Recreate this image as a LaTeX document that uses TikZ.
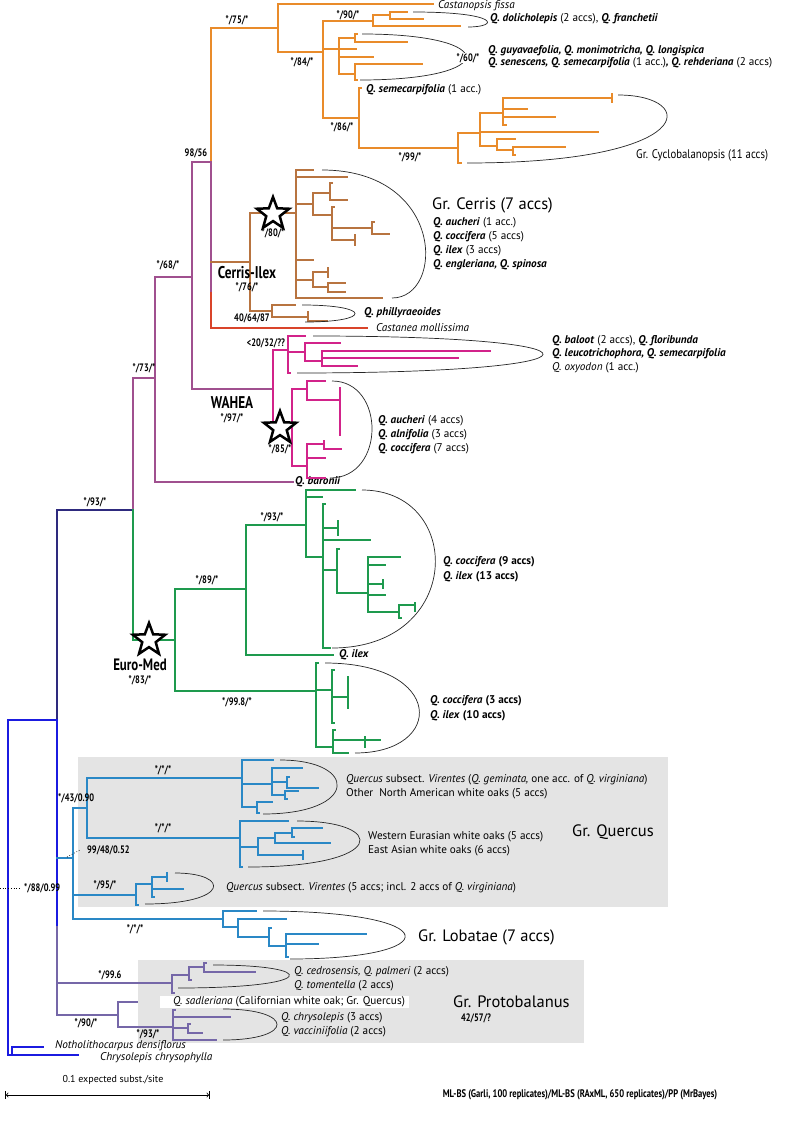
\documentclass[tikz,border=0pt]{standalone}
\usepackage{fontspec}
\setmainfont{PT Sans}
\newfontfamily\cnd[FakeStretch=0.78]{PT Sans}
\newfontfamily\semi[FakeStretch=0.86]{PT Sans}
\usetikzlibrary{shapes.geometric}
\definecolor{cOr}{HTML}{E98B2A}
\definecolor{cBr}{HTML}{B87440}
\definecolor{cRd}{HTML}{D9442A}
\definecolor{cPu}{HTML}{A0508F}
\definecolor{cMg}{HTML}{D2238A}
\definecolor{cNv}{HTML}{2E2A7E}
\definecolor{cGn}{HTML}{1E9A4E}
\definecolor{cBl}{HTML}{2A88C6}
\definecolor{cRt}{HTML}{1B1BE0}
\definecolor{cPr}{HTML}{7567A8}
\definecolor{cGy}{HTML}{E4E4E4}
\newcommand\brc{cOr}
\newcommand\Hb[3]{\draw[br,draw=\brc] (#2,#1) -- (#3,#1);}
\newcommand\Vb[3]{\draw[br,draw=\brc] (#1,#2) -- (#1,#3);}
\newcommand\clade[5]{\pgfmathsetmacro\cladecx{(#5-0.125*(#1+#3))/0.75}\draw[cl] (#1,#2) .. controls (\cladecx,#2) and (\cladecx,#4) .. (#3,#4);}
\newcommand\Q[1]{\textbf{\textit{#1}}}
\tikzset{
 br/.style={line width=2.2pt, line cap=rect},
 cl/.style={line width=0.7pt, draw=black!85},
 sp/.style={anchor=west, inner sep=0pt, font=\fontsize{11.2}{13}\selectfont},
 sup/.style={inner sep=0pt, font=\cnd\bfseries\fontsize{10.8}{12}\selectfont},
 grp/.style={anchor=west, inner sep=0pt, font=\fontsize{16.5}{19}\selectfont},
 bigl/.style={inner sep=0pt, font=\cnd\bfseries\fontsize{17}{19}\selectfont},
 starmark/.style={star, star points=5, star point ratio=2.4, draw=black, line width=2.5pt, fill=white, minimum size=34pt, inner sep=0pt},
}
\begin{document}
\begin{tikzpicture}[x=1pt,y=-1pt]
\useasboundingbox[fill=white] (0,0) rectangle (785,1124);
% grey boxes
\fill[cGy] (78,757) rectangle (668,907);
\fill[cGy] (138,960) rectangle (584,1043);
\fill[white] (160,996) rectangle (409,1008);
% ---------------- orange
\renewcommand\brc{cOr}
\Vb{211}{28}{162}\Hb{28}{211}{278}
\Vb{278}{4}{52}\Hb{4}{278}{433}\Hb{52}{278}{323}
\Vb{323}{21}{118}
\Hb{21}{323}{373}\Vb{373}{15}{26}\Hb{15}{373}{390}\Vb{390}{12}{19}\Hb{12}{390}{407}\Hb{19}{390}{423}\Hb{26}{373}{460}
\Hb{49}{323}{356}\Vb{339}{38}{74}
\Hb{38}{339}{355}\Vb{355}{34}{42}\Hb{34}{355}{357}\Hb{42}{355}{407}
\Hb{57}{339}{373}
\Hb{74}{339}{355}\Vb{355}{64}{80}\Hb{64}{355}{422}\Hb{80}{355}{357}
\Hb{118}{323}{359}\Vb{359}{88}{148}\Hb{88}{359}{361}\Hb{148}{359}{458}
\Vb{458}{133}{163}\Hb{163}{458}{461}
\Hb{133}{458}{480}\Vb{480}{113}{146}
\Hb{113}{480}{503}\Vb{503}{98}{125}\Hb{98}{503}{612}\Vb{612}{94}{102}\Hb{109}{503}{527}\Hb{117}{503}{555}\Hb{125}{503}{506}
\Hb{132}{480}{598}
\Hb{146}{480}{497}\Vb{497}{139}{150}\Hb{139}{497}{515}\Hb{150}{497}{513}\Vb{513}{147}{155}\Hb{147}{513}{565}\Hb{155}{513}{515}
\node[sup] (s75) at (237,20) {*/75/*};
\node[sup] (s84) at (302,62) {*/84/*};
\node[sup] (s90) at (348,15) {*/90/*};
\node[sup] (s86) at (342,127) {*/86/*};
\node[sup] (s99) at (410,157) {*/99/*};
\node[sp] (cfis) at (438,6) {\textit{Castanopsis fissa}};
\clade{413}{12}{468}{27}{485}
\node[sp] (dol) at (490,19) {\Q{Q. dolicholepis} (2 accs), \Q{Q. franchetii}};
\clade{362}{34}{360}{80}{466}
\node[sup,fill=white,inner sep=0.6pt] (s60) at (468,58) {*/60/*};
\node[sp] (guy1) at (488,51) {\Q{Q. guyavaefolia, Q. monimotricha, Q. longispica}};
\node[sp] (guy2) at (488,63) {\Q{Q. senescens, Q. semecarpifolia} (1 acc.)\Q{, Q. rehderiana} (2 accs)};
\node[sp] (sem) at (366,90) {\Q{Q. semecarpifolia} (1 acc.)};
\clade{618}{95}{467}{163}{660}
\node[grp,font=\semi\fontsize{12.5}{15}\selectfont] (cyc) at (636,155) {Gr. Cyclobalanopsis (11 accs)};
% ---------------- purple backbone
\renewcommand\brc{cPu}
\Hb{162}{192}{211}\Vb{211}{162}{293}
\Vb{192}{162}{389}\Hb{277}{155}{192}
\Vb{155}{277}{482}\Hb{482}{155}{293}
\Hb{378}{133}{155}\Vb{133}{378}{510}
\Hb{389}{192}{273}
\renewcommand\brc{cRd}
\Vb{211}{293}{328}\Hb{328}{211}{367}
\node[sup] (s9856) at (196,153) {98/56};
\node[sup] (s68) at (168,265) {*/68/*};
\node[sup] (s73) at (144,368) {*/73/*};
\node[sp] (cmol) at (376,328) {\textit{Castanea mollissima}};
\node[sp] (baro) at (295,482) {\Q{Q. baronii}};
% ---------------- Cerris
\renewcommand\brc{cBr}
\Hb{262}{211}{250}\Vb{250}{213}{311}\Hb{213}{250}{296}
\Vb{296}{170}{298}
\Hb{170}{296}{313}\Hb{177}{296}{347}
\Hb{204}{296}{313}\Vb{313}{193}{215}
\Hb{193}{313}{330}\Vb{330}{183}{200}\Hb{183}{330}{332}\Hb{200}{330}{347}
\Hb{215}{313}{332}\Vb{332}{207}{240}\Hb{207}{332}{334}
\Hb{228}{332}{372}\Vb{372}{222}{234}\Hb{222}{372}{374}\Hb{234}{372}{389}
\Hb{240}{332}{355}\Vb{355}{235}{245}
\Hb{260}{296}{313}
\Hb{280}{296}{313}\Vb{313}{272}{287}
\Hb{272}{313}{328}\Vb{328}{268}{277}
\Hb{287}{313}{328}\Vb{328}{283}{292}\Hb{283}{328}{345}\Hb{292}{328}{345}
\Hb{298}{296}{382}
\Hb{311}{250}{272}\Vb{272}{305}{317}\Hb{305}{272}{295}\Hb{317}{272}{308}\Vb{308}{312}{321}\Hb{321}{308}{327}
\clade{322}{170}{392}{298}{423}
\clade{302}{305}{305}{322}{355}
\node[starmark] (st1) at (273,214) {};
\node[sup] (s80) at (273,233) {*/80/*};
\node[bigl] (ceil) at (247,273) {Cerris-Ilex};
\node[sup] (s76) at (247,287) {*/76/*};
\node[sup] (s406487) at (252,318) {40/64/87};
\node[sp] (phil) at (364,313) {\Q{Q. phillyraeoides}};
\node[grp] (gcer) at (432,205) {Gr. Cerris (7 accs)};
\node[sp] (ce1) at (433,223) {\Q{Q. aucheri} (1 acc.)};
\node[sp] (ce2) at (433,237) {\Q{Q. coccifera} (5 accs)};
\node[sp] (ce3) at (433,251) {\Q{Q. ilex} (3 accs)};
\node[sp] (ce4) at (433,265) {\Q{Q. engleriana, Q. spinosa}};
% ---------------- WAHEA
\renewcommand\brc{cMg}
\Vb{273}{350}{427}\Hb{350}{273}{288}
\Vb{288}{336}{373}\Hb{336}{288}{305}\Hb{352}{288}{305}\Hb{373}{288}{290}
\Vb{305}{343}{361}\Hb{343}{305}{340}\Hb{361}{305}{322}
\Vb{322}{351}{366}\Hb{351}{322}{490}\Hb{358}{322}{458}\Hb{366}{322}{357}
\Hb{427}{273}{292}\Vb{292}{389}{466}
\Hb{389}{292}{307}\Vb{307}{381}{400}\Hb{381}{307}{325}\Hb{400}{307}{340}\Vb{340}{388}{435}
\Hb{466}{292}{307}\Vb{307}{444}{478}\Hb{444}{307}{324}\Vb{324}{441}{449}\Hb{449}{324}{341}\Hb{458}{307}{325}\Hb{478}{307}{325}
\clade{313}{336}{297}{373}{543}
\clade{332}{381}{330}{478}{372}
\node[starmark] (st2) at (280,428) {};
\node[sup] (s2032) at (266,343) {<20/32/??};
\node[bigl] (wah) at (232,403) {WAHEA};
\node[sup] (s97) at (232,418) {*/97/*};
\node[sup] (s85) at (280,449) {*/85/*};
\node[sp] (wa1) at (552,341) {\Q{Q. baloot} (2 accs), \Q{Q. floribunda}};
\node[sp] (wa2) at (552,354) {\Q{Q. leucotrichophora, Q. semecarpifolia}};
\node[sp] (wa3) at (552,368) {\textit{Q. oxyodon} (1 acc.)};
\node[sp] (wb1) at (378,421) {\Q{Q. aucheri} (4 accs)};
\node[sp] (wb2) at (378,435) {\Q{Q. alnifolia} (3 accs)};
\node[sp] (wb3) at (378,449) {\Q{Q. coccifera} (7 accs)};
% ---------------- navy + Euro-Med
\renewcommand\brc{cNv}
\Hb{510}{57}{133}\Vb{57}{510}{720}
\node[sup] (s93a) at (95,502) {*/93/*};
\renewcommand\brc{cGn}
\Vb{133}{510}{640}\Hb{640}{133}{175}
\Vb{175}{589}{691}\Hb{589}{175}{246}\Hb{691}{175}{316}
\Vb{246}{525}{655}\Hb{525}{246}{306}\Hb{655}{246}{333}
\Vb{306}{490}{557}\Hb{490}{306}{355}\Hb{497}{306}{322}\Hb{557}{306}{323}
\Vb{323}{504}{648}\Hb{504}{323}{325}
\Hb{528}{323}{338}\Vb{338}{521}{535}
\Hb{540}{323}{370}
\Hb{570}{323}{337}\Vb{337}{549}{593}\Hb{549}{337}{339}\Hb{593}{337}{368}
\Vb{368}{557}{612}\Hb{557}{368}{400}\Hb{565}{368}{385}\Hb{584}{368}{383}\Vb{383}{580}{588}\Hb{595}{368}{385}
\Hb{612}{368}{399}\Vb{399}{605}{618}\Hb{605}{399}{415}\Vb{415}{603}{611}\Hb{618}{399}{401}
\Hb{648}{323}{330}
\Vb{316}{663}{747}\Hb{663}{316}{318}
\Hb{690}{316}{332}\Vb{332}{670}{723}\Hb{670}{332}{334}\Hb{697}{332}{348}\Vb{348}{677}{708}\Hb{723}{332}{334}
\Hb{747}{316}{333}\Vb{333}{730}{753}\Hb{730}{333}{335}\Hb{740}{333}{380}\Vb{365}{737}{747}\Hb{753}{333}{348}
\clade{362}{490}{332}{648}{435}
\clade{325}{663}{355}{753}{419}
\node[starmark] (st3) at (149,640) {};
\node[bigl,font=\cnd\bfseries\fontsize{16.5}{19}\selectfont] (eur) at (140,665) {Euro-Med};
\node[sup] (s83) at (140,680) {*/83/*};
\node[sup] (s89) at (207,580) {*/89/*};
\node[sup] (s93b) at (272,517) {*/93/*};
\node[sup] (s998) at (237,702) {*/99.8/*};
\node[sp] (qil) at (339,655) {\Q{Q. ilex}};
\node[sp] (em1) at (443,562) {\Q{Q. coccifera} \textbf{(9 accs)}};
\node[sp] (em2) at (443,577) {\Q{Q. ilex} \textbf{(13 accs)}};
\node[sp] (em3) at (430,701) {\Q{Q. coccifera} \textbf{(3 accs)}};
\node[sp] (em4) at (430,716) {\Q{Q. ilex} \textbf{(10 accs)}};
% ---------------- root
\renewcommand\brc{cRt}
\Hb{720}{8}{57}\Vb{57}{720}{927}
\Vb{8}{720}{1055}\Hb{1055}{8}{78}\Vb{12}{1047}{1055}\Hb{1047}{12}{43}
\node[sp] (noth) at (55,1046) {\textit{Notholithocarpus densiflorus}};
\node[sp] (chry) at (100,1058) {\textit{Chrysolepis chrysophylla}};
% ---------------- Quercus
\renewcommand\brc{cBl}
\Hb{858}{57}{73}\Vb{73}{808}{919}
\Hb{808}{73}{87}\Vb{87}{778}{838}
\Hb{778}{87}{242}\Vb{242}{760}{807}
\Hb{760}{242}{273}
\Hb{784}{242}{272}\Vb{272}{768}{795}\Hb{768}{272}{302}
\Hb{782}{272}{287}\Vb{287}{777}{788}\Hb{777}{287}{289}\Hb{788}{287}{318}
\Hb{795}{272}{285}\Vb{285}{791}{799}\Hb{791}{285}{298}\Hb{799}{285}{287}
\Hb{807}{242}{257}\Vb{257}{802}{813}\Hb{802}{257}{272}\Hb{813}{257}{259}
\Hb{838}{87}{240}\Vb{240}{821}{867}
\Hb{821}{240}{288}
\Hb{847}{240}{258}\Vb{258}{838}{855}
\Hb{838}{258}{275}\Vb{275}{833}{843}\Hb{833}{275}{292}\Vb{292}{828}{837}\Hb{828}{292}{322}\Hb{837}{292}{294}\Hb{843}{275}{330}
\Hb{855}{258}{303}\Vb{303}{851}{859}
\Hb{867}{240}{242}
\Hb{895}{73}{136}\Vb{136}{884}{905}
\Hb{884}{136}{152}\Vb{152}{877}{897}\Hb{877}{152}{167}\Vb{167}{873}{881}\Hb{889}{152}{183}\Hb{897}{152}{154}
\Hb{905}{136}{138}
\Hb{919}{73}{223}\Vb{223}{911}{927}\Hb{911}{223}{256}\Hb{927}{223}{238}
\Vb{238}{919}{937}\Hb{919}{238}{286}\Hb{937}{238}{269}
\Vb{269}{928}{946}\Hb{928}{269}{271}\Hb{946}{269}{286}
\Vb{286}{934}{957}\Hb{934}{286}{366}\Hb{944}{286}{318}\Hb{957}{286}{288}
\clade{280}{760}{263}{814}{337}
\clade{297}{821}{248}{867}{359}
\clade{175}{873}{145}{904}{213}
\clade{263}{911}{290}{959}{405}
\draw[dotted, line width=0.7pt] (67,857) -- (80,850);
\coordinate (d88a) at (0,888);
\coordinate (d88b) at (21,888);
\draw[dotted, line width=0.7pt] (d88a) -- (d88b);
\node[sup, anchor=west] (s9948) at (87,850) {99/48/0.52};
\node[sup, anchor=west] (s8899) at (24,888) {*/88/0.99};
\node[sup, anchor=west] (s4390) at (58,798) {*/43/0.90};
\node[sup] (sq1) at (163,770) {*/*/*};
\node[sup] (sq2) at (163,828) {*/*/*};
\node[sup] (s95) at (105,885) {*/95/*};
\node[sup] (slob) at (135,929) {*/*/*};
\node[sp] (qv1) at (346,780) {\textit{Quercus} subsect. \textit{Virentes} (\textit{Q. geminata,} one acc. of \textit{Q. virginiana})};
\node[sp] (qv2) at (346,794) {Other\ \ North American white oaks (5 accs)};
\node[sp] (we1) at (368,837) {Western Eurasian white oaks (5 accs)};
\node[sp] (we2) at (368,851) {East Asian white oaks (6 accs)};
\node[sp] (qv3) at (226,888) {\textit{Quercus} subsect. \textit{Virentes} (5 accs; incl. 2 accs of \textit{Q. virginiana})};
\node[grp] (gq) at (572,832) {Gr. Quercus};
\node[grp] (glob) at (418,937) {Gr. Lobatae (7 accs)};
% ---------------- Protobalanus
\renewcommand\brc{cPr}
\Vb{57}{927}{1015}
\Hb{983}{57}{172}\Vb{172}{975}{993}
\Hb{975}{172}{189}\Vb{189}{967}{980}\Hb{967}{189}{204}\Vb{204}{963}{972}\Hb{963}{204}{206}\Hb{972}{204}{255}\Hb{980}{189}{191}
\Hb{993}{172}{174}
\Hb{1015}{57}{118}\Vb{118}{1002}{1027}\Hb{1002}{118}{137}\Hb{1027}{118}{173}
\Vb{173}{1010}{1040}\Hb{1010}{173}{175}\Hb{1017}{173}{230}
\Hb{1028}{173}{188}\Vb{188}{1024}{1033}\Hb{1024}{188}{190}\Hb{1033}{188}{202}
\Hb{1040}{173}{216}
\clade{213}{965}{178}{988}{289}
\clade{223}{1009}{223}{1040}{277}
\node[sup] (s996) at (110,975) {*/99.6};
\node[sup] (s90p) at (86,1023) {*/90/*};
\node[sup] (s93p) at (148,1034) {*/93/*};
\node[sp] (pr1) at (294,972) {\textit{Q. cedrosensis, Q. palmeri} (2 accs)};
\node[sp] (pr2) at (294,986) {\textit{Q. tomentella} (2 accs)};
\node[sp] (sad) at (173,1002) {\textit{Q. sadleriana} (Californian white oak; Gr. Quercus)};
\node[sp] (pr3) at (281,1018) {\textit{Q. chrysolepis} (3 accs)};
\node[sp] (pr4) at (281,1032) {\textit{Q. vacciniifolia} (2 accs)};
\node[grp] (gpro) at (453,1002) {Gr. Protobalanus};
\node[sup] (s4257) at (476,1018) {42/57/?};
% ---------------- scale and legend
\coordinate (sb1) at (5,1095);
\coordinate (sb2) at (210,1095);
\draw[|<->|, line width=0.8pt] (sb1) -- (sb2);
\node[inner sep=0pt, font=\fontsize{10}{12}\selectfont] (sbl) at (113,1080) {0.1 expected subst./site};
\node[sup, font=\cnd\bfseries\fontsize{11}{12}\selectfont] (leg) at (580,1095) {ML-BS (Garli, 100 replicates)/ML-BS (RAxML, 650 replicates)/PP (MrBayes)};
\end{tikzpicture}
\end{document}
